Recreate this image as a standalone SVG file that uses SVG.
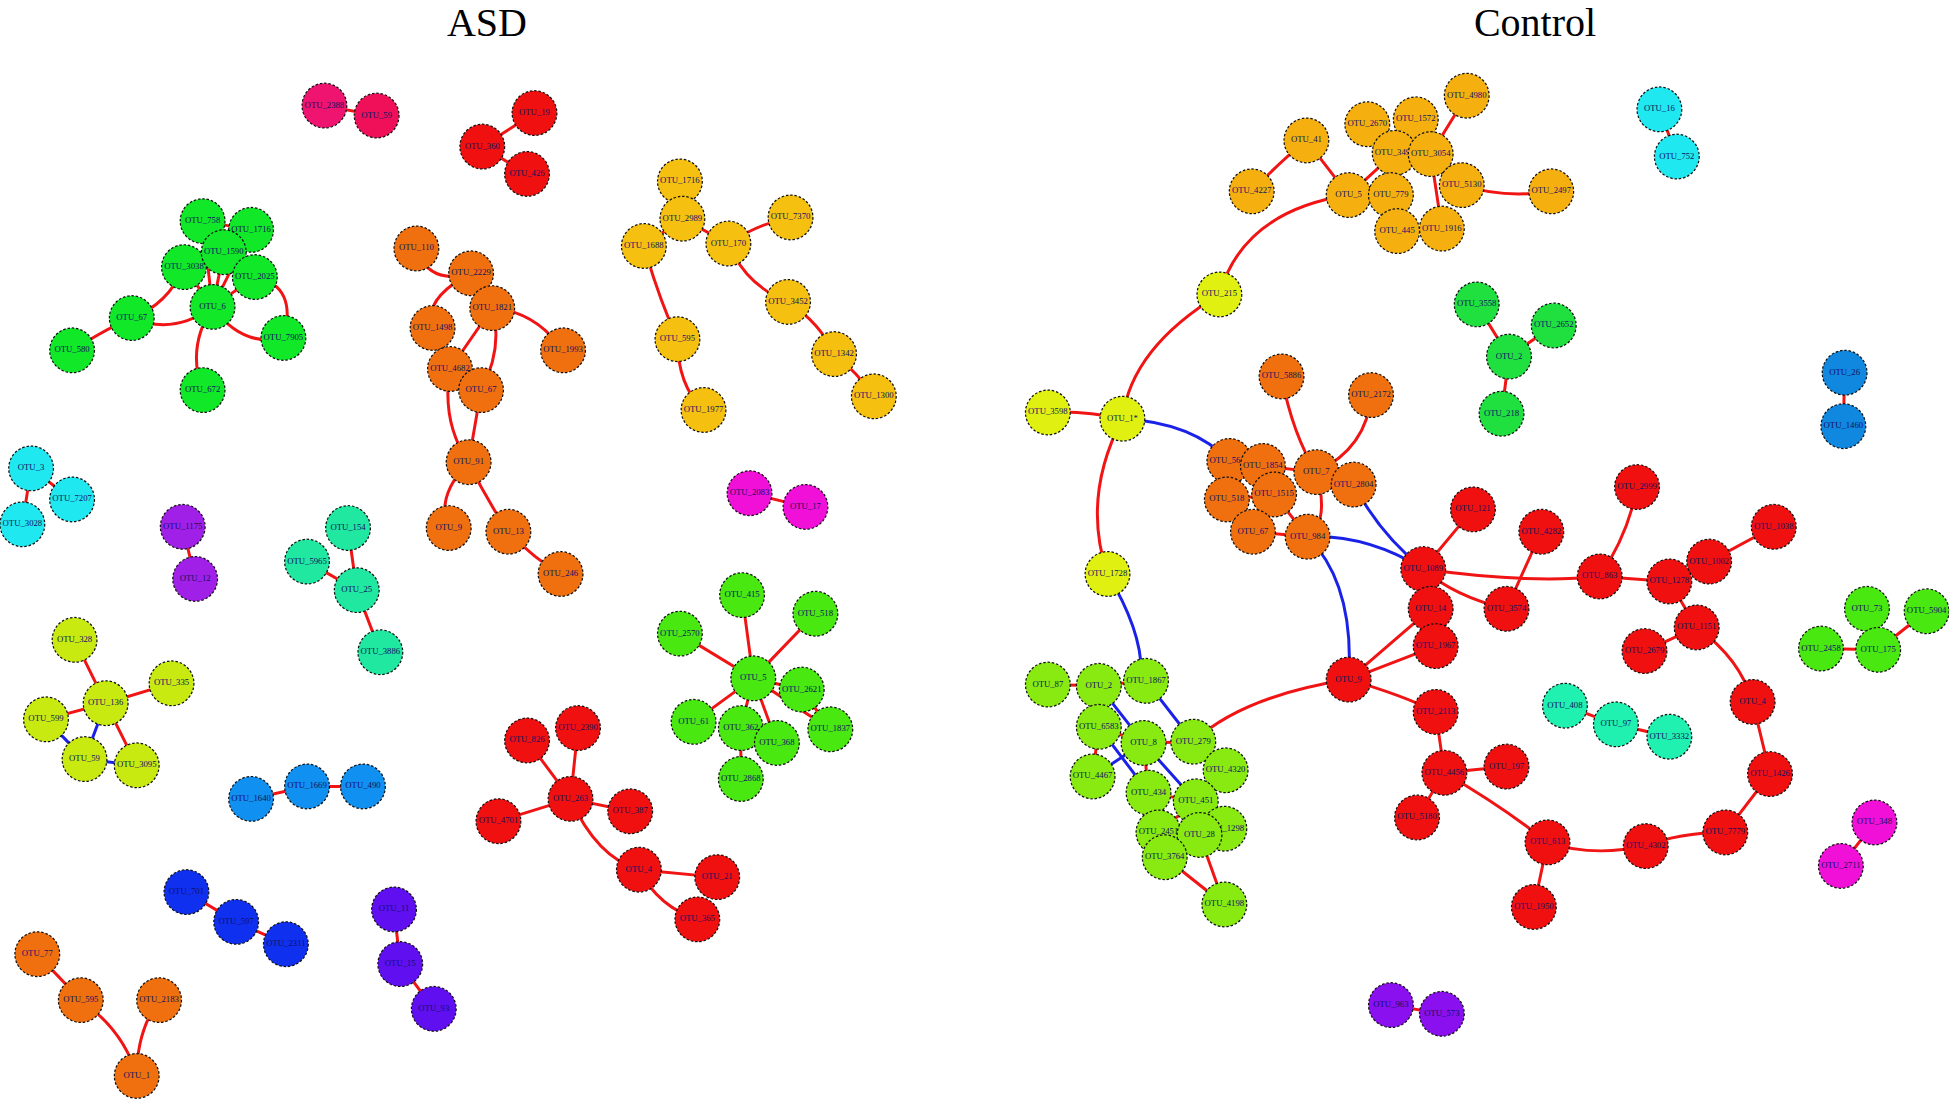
<svg xmlns="http://www.w3.org/2000/svg" width="1949" height="1102" viewBox="0 0 1949 1102">
<style>
circle{stroke:#111;stroke-width:1;stroke-dasharray:2 1.5}
text.l{font-family:"Liberation Serif",serif;font-size:7px;fill:#101060;text-anchor:middle;dominant-baseline:middle}
text.t{font-family:"Liberation Serif",serif;font-size:40px;fill:#000;text-anchor:middle}
.e path{fill:none;stroke-width:2.4}
.r{stroke:#f01414}.b{stroke:#1a22e8}
.mg{fill:#ee1470}.rd{fill:#f01010}.gr{fill:#10e828}.or{fill:#f07010}.ye{fill:#f5c010}.cy{fill:#20e8f0}.pu{fill:#a020e8}.tl{fill:#20e8a0}.pk{fill:#f010d8}.yg{fill:#c8ea10}.g2{fill:#48e810}.bl{fill:#1090f0}.db{fill:#1030f0}.vi{fill:#6010f0}.oy{fill:#f5b010}.y2{fill:#e0f010}.lm{fill:#88ea10}.ct{fill:#20f0b0}.gc{fill:#20e040}.bc{fill:#1088e0}.pc{fill:#8a10f0}
</style>
<rect width="1949" height="1102" fill="#fff"/>
<text class="t" x="487" y="36">ASD</text>
<text class="t" x="1535" y="36">Control</text>
<g transform="scale(1.243,1.2424)">
<g id="connectors" class="e">
<path class="r" d="M261 85L303 93M388 118L430 91M388 118L424 140"/>
<path class="r" d="M58 282Q90 262 106 256M106 256Q140 270 171 247M106 256Q135 245 148 215M171 247L163 178M171 247L202 185M171 247L180 203M171 247L148 215M171 247L205 223M171 247Q195 280 228 272M205 223Q240 230 228 272M171 247Q150 280 163 314M163 178L202 185M180 203L148 215"/>
<path class="r" d="M335 200Q345 230 379 220M379 220Q340 240 348 264M379 220L396 248M396 248Q430 250 453 282M396 248L362 297M348 264L362 297M396 248Q405 280 387 314M362 297L387 314M362 297Q355 340 377 372M387 314L377 372M377 372Q350 400 361 425M377 372Q390 400 409 428M409 428Q430 450 451 462"/>
<path class="r" d="M547 146L549 176M549 176L518 198M549 176L586 196M586 196Q610 180 636 175M586 196Q600 230 634 243M634 243Q660 260 671 285M671 285Q690 300 703 319M518 198Q530 240 545 273M545 273Q545 310 566 330"/>
<path class="r" d="M25 377L58 402M25 377L18 422M147 424L157 466M280 425L287 475M247 452L287 475M287 475L306 525M603 397L648 408"/>
<path class="r" d="M60 515L85 566M85 566L138 550M85 566L37 579M85 566L110 616"/><path class="b" d="M85 566L68 611M68 611L110 616M37 579L68 611"/>
<path class="r" d="M606 546L597 479M606 546L547 510M606 546L656 494M606 546L645 555M606 546L558 581M606 546L596 586M606 546L668 587M606 546L625 598M596 586L596 627M645 555L668 587M596 586L625 598"/>
<path class="r" d="M202 643L247 633L292 633M150 718L190 742L230 760M317 732L322 776L349 812"/>
<path class="r" d="M424 596L459 643M465 586L459 643M459 643L507 653M459 643L401 661M459 643Q480 690 514 700M514 700L577 706M514 700Q530 730 561 740"/>
<path class="r" d="M30 768L65 805M65 805Q100 830 110 866M128 805Q110 830 110 866"/>
<path class="r" d="M1100 100L1122 123M1139 96L1122 123M1180 77L1151 124M1051 113L1085 157M1122 123L1085 157M1122 123L1119 157M1151 124L1176 149M1176 149Q1210 160 1248 154M1122 123L1124 186M1151 124L1160 184M1119 157L1124 186M1007 154Q1030 130 1051 113M1085 157Q1000 170 981 237M981 237Q910 280 903 337M903 337Q870 330 843 332M903 337Q870 400 891 462"/>
<path class="b" d="M903 337Q960 340 989 371M891 462Q920 510 918 545"/>
<path class="r" d="M1335 88L1349 126M1188 245L1214 287M1250 262L1214 287M1214 287L1208 333M1484 300L1483 343"/>
<path class="r" d="M1031 303Q1040 350 1059 380M1103 318Q1100 360 1059 380M989 371L1016 375M1016 375L1059 380M987 402L1025 398M1025 398L1052 432M1008 428L1052 432M1059 380L1089 390M1016 375L1025 398M1059 380Q1070 420 1052 432"/>
<path class="b" d="M1052 432Q1100 430 1145 458M1089 390Q1110 430 1145 458M1052 432Q1090 470 1085 547"/>
<path class="r" d="M1185 410L1145 458M1145 458L1151 490M1145 458Q1170 480 1212 490M1145 458Q1230 470 1287 464M1317 392Q1310 430 1287 464M1240 428L1212 490M1287 464L1343 468M1343 468L1375 452M1375 452L1427 424M1343 468L1365 505M1365 505L1323 524M1365 505Q1400 530 1410 565M1410 565L1424 623M1424 623L1388 670M1388 670Q1350 670 1324 681M1324 681Q1280 690 1245 678M1245 678Q1210 650 1162 622M1245 678L1234 730M1085 547L1151 490M1085 547L1155 520M1085 547Q1130 560 1155 573M1155 573L1162 622M1162 622L1140 658M1162 622L1212 617M1151 490L1155 520M1085 547Q1000 560 960 597"/>
<path class="r" d="M1259 568L1300 583L1343 593M1502 490L1511 523M1550 492L1511 523M1465 522L1511 523M1508 662L1481 697M1119 809L1160 816"/>
<path class="r" d="M843 551L884 552L922 548M884 552L884 585M884 585L920 598M920 598L960 597M884 585L879 625M920 598L924 638M924 638L962 645M960 597L986 620M962 645L985 667M962 645L932 670M962 645L965 672M932 670L937 690M965 672L985 728M937 690L985 728"/>
<path class="b" d="M884 552L920 598M922 548L960 597M884 585L924 638M920 598L962 645M879 625L920 598"/>
</g>
<g id="n001"><circle class="mg" cx="261" cy="85" r="18"/><text class="l" x="261" y="85">OTU_2388</text></g>
<g id="n002"><circle class="mg" cx="303" cy="93" r="18" style="fill:#f0105a"/><text class="l" x="303" y="93">OTU_59</text></g>
<g id="n003"><circle class="rd" cx="430" cy="91" r="18"/><text class="l" x="430" y="91">OTU_19</text></g>
<g id="n004"><circle class="rd" cx="388" cy="118" r="18"/><text class="l" x="388" y="118">OTU_360</text></g>
<g id="n005"><circle class="rd" cx="424" cy="140" r="18"/><text class="l" x="424" y="140">OTU_426</text></g>
<g id="n006"><circle class="gr" cx="163" cy="178" r="18"/><text class="l" x="163" y="178">OTU_758</text></g>
<g id="n007"><circle class="gr" cx="202" cy="185" r="18"/><text class="l" x="202" y="185">OTU_1716</text></g>
<g id="n008"><circle class="gr" cx="148" cy="215" r="18"/><text class="l" x="148" y="215">OTU_3038</text></g>
<g id="n009"><circle class="gr" cx="180" cy="203" r="18"/><text class="l" x="180" y="203">OTU_1590</text></g>
<g id="n010"><circle class="gr" cx="205" cy="223" r="18"/><text class="l" x="205" y="223">OTU_2025</text></g>
<g id="n011"><circle class="gr" cx="171" cy="247" r="18"/><text class="l" x="171" y="247">OTU_6</text></g>
<g id="n012"><circle class="gr" cx="106" cy="256" r="18"/><text class="l" x="106" y="256">OTU_67</text></g>
<g id="n013"><circle class="gr" cx="58" cy="282" r="18"/><text class="l" x="58" y="282">OTU_580</text></g>
<g id="n014"><circle class="gr" cx="228" cy="272" r="18"/><text class="l" x="228" y="272">OTU_7905</text></g>
<g id="n015"><circle class="gr" cx="163" cy="314" r="18"/><text class="l" x="163" y="314">OTU_672</text></g>
<g id="n016"><circle class="or" cx="335" cy="200" r="18"/><text class="l" x="335" y="200">OTU_110</text></g>
<g id="n017"><circle class="or" cx="379" cy="220" r="18"/><text class="l" x="379" y="220">OTU_2229</text></g>
<g id="n018"><circle class="or" cx="348" cy="264" r="18"/><text class="l" x="348" y="264">OTU_1498</text></g>
<g id="n019"><circle class="or" cx="396" cy="248" r="18"/><text class="l" x="396" y="248">OTU_1821</text></g>
<g id="n020"><circle class="or" cx="453" cy="282" r="18"/><text class="l" x="453" y="282">OTU_1993</text></g>
<g id="n021"><circle class="or" cx="362" cy="297" r="18"/><text class="l" x="362" y="297">OTU_4682</text></g>
<g id="n022"><circle class="or" cx="387" cy="314" r="18"/><text class="l" x="387" y="314">OTU_67</text></g>
<g id="n023"><circle class="or" cx="377" cy="372" r="18"/><text class="l" x="377" y="372">OTU_91</text></g>
<g id="n024"><circle class="or" cx="361" cy="425" r="18"/><text class="l" x="361" y="425">OTU_9</text></g>
<g id="n025"><circle class="or" cx="409" cy="428" r="18"/><text class="l" x="409" y="428">OTU_13</text></g>
<g id="n026"><circle class="or" cx="451" cy="462" r="18"/><text class="l" x="451" y="462">OTU_246</text></g>
<g id="n027"><circle class="ye" cx="547" cy="146" r="18"/><text class="l" x="547" y="146">OTU_1716</text></g>
<g id="n028"><circle class="ye" cx="549" cy="176" r="18"/><text class="l" x="549" y="176">OTU_2989</text></g>
<g id="n029"><circle class="ye" cx="518" cy="198" r="18"/><text class="l" x="518" y="198">OTU_1688</text></g>
<g id="n030"><circle class="ye" cx="586" cy="196" r="18"/><text class="l" x="586" y="196">OTU_170</text></g>
<g id="n031"><circle class="ye" cx="636" cy="175" r="18"/><text class="l" x="636" y="175">OTU_7370</text></g>
<g id="n032"><circle class="ye" cx="634" cy="243" r="18"/><text class="l" x="634" y="243">OTU_3452</text></g>
<g id="n033"><circle class="ye" cx="545" cy="273" r="18"/><text class="l" x="545" y="273">OTU_595</text></g>
<g id="n034"><circle class="ye" cx="671" cy="285" r="18"/><text class="l" x="671" y="285">OTU_1342</text></g>
<g id="n035"><circle class="ye" cx="703" cy="319" r="18"/><text class="l" x="703" y="319">OTU_1300</text></g>
<g id="n036"><circle class="ye" cx="566" cy="330" r="18"/><text class="l" x="566" y="330">OTU_1977</text></g>
<g id="n037"><circle class="cy" cx="25" cy="377" r="18"/><text class="l" x="25" y="377">OTU_3</text></g>
<g id="n038"><circle class="cy" cx="58" cy="402" r="18"/><text class="l" x="58" y="402">OTU_7207</text></g>
<g id="n039"><circle class="cy" cx="18" cy="422" r="18"/><text class="l" x="18" y="422">OTU_3028</text></g>
<g id="n040"><circle class="pu" cx="147" cy="424" r="18"/><text class="l" x="147" y="424">OTU_1175</text></g>
<g id="n041"><circle class="pu" cx="157" cy="466" r="18"/><text class="l" x="157" y="466">OTU_12</text></g>
<g id="n042"><circle class="tl" cx="280" cy="425" r="18"/><text class="l" x="280" y="425">OTU_154</text></g>
<g id="n043"><circle class="tl" cx="247" cy="452" r="18"/><text class="l" x="247" y="452">OTU_5965</text></g>
<g id="n044"><circle class="tl" cx="287" cy="475" r="18"/><text class="l" x="287" y="475">OTU_25</text></g>
<g id="n045"><circle class="tl" cx="306" cy="525" r="18"/><text class="l" x="306" y="525">OTU_3886</text></g>
<g id="n046"><circle class="pk" cx="603" cy="397" r="18"/><text class="l" x="603" y="397">OTU_2083</text></g>
<g id="n047"><circle class="pk" cx="648" cy="408" r="18"/><text class="l" x="648" y="408">OTU_17</text></g>
<g id="n048"><circle class="yg" cx="60" cy="515" r="18"/><text class="l" x="60" y="515">OTU_328</text></g>
<g id="n049"><circle class="yg" cx="85" cy="566" r="18"/><text class="l" x="85" y="566">OTU_136</text></g>
<g id="n050"><circle class="yg" cx="138" cy="550" r="18"/><text class="l" x="138" y="550">OTU_335</text></g>
<g id="n051"><circle class="yg" cx="37" cy="579" r="18"/><text class="l" x="37" y="579">OTU_599</text></g>
<g id="n052"><circle class="yg" cx="68" cy="611" r="18"/><text class="l" x="68" y="611">OTU_59</text></g>
<g id="n053"><circle class="yg" cx="110" cy="616" r="18"/><text class="l" x="110" y="616">OTU_3095</text></g>
<g id="n054"><circle class="g2" cx="597" cy="479" r="18"/><text class="l" x="597" y="479">OTU_415</text></g>
<g id="n055"><circle class="g2" cx="547" cy="510" r="18"/><text class="l" x="547" y="510">OTU_2570</text></g>
<g id="n056"><circle class="g2" cx="656" cy="494" r="18"/><text class="l" x="656" y="494">OTU_518</text></g>
<g id="n057"><circle class="g2" cx="606" cy="546" r="18"/><text class="l" x="606" y="546">OTU_5</text></g>
<g id="n058"><circle class="g2" cx="645" cy="555" r="18"/><text class="l" x="645" y="555">OTU_2621</text></g>
<g id="n059"><circle class="g2" cx="558" cy="581" r="18"/><text class="l" x="558" y="581">OTU_61</text></g>
<g id="n060"><circle class="g2" cx="596" cy="586" r="18"/><text class="l" x="596" y="586">OTU_362</text></g>
<g id="n061"><circle class="g2" cx="668" cy="587" r="18"/><text class="l" x="668" y="587">OTU_1837</text></g>
<g id="n062"><circle class="g2" cx="625" cy="598" r="18"/><text class="l" x="625" y="598">OTU_368</text></g>
<g id="n063"><circle class="g2" cx="596" cy="627" r="18"/><text class="l" x="596" y="627">OTU_2868</text></g>
<g id="n064"><circle class="bl" cx="202" cy="643" r="18"/><text class="l" x="202" y="643">OTU_1640</text></g>
<g id="n065"><circle class="bl" cx="247" cy="633" r="18"/><text class="l" x="247" y="633">OTU_1669</text></g>
<g id="n066"><circle class="bl" cx="292" cy="633" r="18"/><text class="l" x="292" y="633">OTU_490</text></g>
<g id="n067"><circle class="rd" cx="424" cy="596" r="18"/><text class="l" x="424" y="596">OTU_826</text></g>
<g id="n068"><circle class="rd" cx="465" cy="586" r="18"/><text class="l" x="465" y="586">OTU_2390</text></g>
<g id="n069"><circle class="rd" cx="459" cy="643" r="18"/><text class="l" x="459" y="643">OTU_263</text></g>
<g id="n070"><circle class="rd" cx="507" cy="653" r="18"/><text class="l" x="507" y="653">OTU_387</text></g>
<g id="n071"><circle class="rd" cx="401" cy="661" r="18"/><text class="l" x="401" y="661">OTU_4701</text></g>
<g id="n072"><circle class="rd" cx="514" cy="700" r="18"/><text class="l" x="514" y="700">OTU_4</text></g>
<g id="n073"><circle class="rd" cx="577" cy="706" r="18"/><text class="l" x="577" y="706">OTU_21</text></g>
<g id="n074"><circle class="rd" cx="561" cy="740" r="18"/><text class="l" x="561" y="740">OTU_365</text></g>
<g id="n075"><circle class="db" cx="150" cy="718" r="18"/><text class="l" x="150" y="718">OTU_701</text></g>
<g id="n076"><circle class="db" cx="190" cy="742" r="18"/><text class="l" x="190" y="742">OTU_597</text></g>
<g id="n077"><circle class="db" cx="230" cy="760" r="18"/><text class="l" x="230" y="760">OTU_2311</text></g>
<g id="n078"><circle class="vi" cx="317" cy="732" r="18"/><text class="l" x="317" y="732">OTU_11</text></g>
<g id="n079"><circle class="vi" cx="322" cy="776" r="18"/><text class="l" x="322" y="776">OTU_15</text></g>
<g id="n080"><circle class="vi" cx="349" cy="812" r="18"/><text class="l" x="349" y="812">OTU_93</text></g>
<g id="n081"><circle class="or" cx="30" cy="768" r="18"/><text class="l" x="30" y="768">OTU_77</text></g>
<g id="n082"><circle class="or" cx="65" cy="805" r="18"/><text class="l" x="65" y="805">OTU_595</text></g>
<g id="n083"><circle class="or" cx="128" cy="805" r="18"/><text class="l" x="128" y="805">OTU_2183</text></g>
<g id="n084"><circle class="or" cx="110" cy="866" r="18"/><text class="l" x="110" y="866">OTU_1</text></g>
<g id="n101"><circle class="oy" cx="1180" cy="77" r="18"/><text class="l" x="1180" y="77">OTU_4980</text></g>
<g id="n102"><circle class="oy" cx="1100" cy="100" r="18"/><text class="l" x="1100" y="100">OTU_2670</text></g>
<g id="n103"><circle class="oy" cx="1139" cy="96" r="18"/><text class="l" x="1139" y="96">OTU_1572</text></g>
<g id="n104"><circle class="oy" cx="1051" cy="113" r="18"/><text class="l" x="1051" y="113">OTU_41</text></g>
<g id="n105"><circle class="oy" cx="1122" cy="123" r="18"/><text class="l" x="1122" y="123">OTU_3490</text></g>
<g id="n106"><circle class="oy" cx="1151" cy="124" r="18"/><text class="l" x="1151" y="124">OTU_3054</text></g>
<g id="n107"><circle class="oy" cx="1007" cy="154" r="18"/><text class="l" x="1007" y="154">OTU_4227</text></g>
<g id="n108"><circle class="oy" cx="1085" cy="157" r="18"/><text class="l" x="1085" y="157">OTU_5</text></g>
<g id="n109"><circle class="oy" cx="1119" cy="157" r="18"/><text class="l" x="1119" y="157">OTU_779</text></g>
<g id="n110"><circle class="oy" cx="1176" cy="149" r="18"/><text class="l" x="1176" y="149">OTU_5130</text></g>
<g id="n111"><circle class="oy" cx="1248" cy="154" r="18"/><text class="l" x="1248" y="154">OTU_2497</text></g>
<g id="n112"><circle class="oy" cx="1124" cy="186" r="18"/><text class="l" x="1124" y="186">OTU_445</text></g>
<g id="n113"><circle class="oy" cx="1160" cy="184" r="18"/><text class="l" x="1160" y="184">OTU_1916</text></g>
<g id="n114"><circle class="y2" cx="981" cy="237" r="18"/><text class="l" x="981" y="237">OTU_215</text></g>
<g id="n115"><circle class="y2" cx="903" cy="337" r="18"/><text class="l" x="903" y="337">OTU_1*</text></g>
<g id="n116"><circle class="y2" cx="843" cy="332" r="18"/><text class="l" x="843" y="332">OTU_3598</text></g>
<g id="n117"><circle class="y2" cx="891" cy="462" r="18"/><text class="l" x="891" y="462">OTU_1728</text></g>
<g id="n118"><circle class="cy" cx="1335" cy="88" r="18"/><text class="l" x="1335" y="88">OTU_16</text></g>
<g id="n119"><circle class="cy" cx="1349" cy="126" r="18"/><text class="l" x="1349" y="126">OTU_752</text></g>
<g id="n120"><circle class="gc" cx="1188" cy="245" r="18"/><text class="l" x="1188" y="245">OTU_3558</text></g>
<g id="n121"><circle class="gc" cx="1250" cy="262" r="18"/><text class="l" x="1250" y="262">OTU_2652</text></g>
<g id="n122"><circle class="gc" cx="1214" cy="287" r="18"/><text class="l" x="1214" y="287">OTU_2</text></g>
<g id="n123"><circle class="gc" cx="1208" cy="333" r="18"/><text class="l" x="1208" y="333">OTU_218</text></g>
<g id="n124"><circle class="bc" cx="1484" cy="300" r="18"/><text class="l" x="1484" y="300">OTU_26</text></g>
<g id="n125"><circle class="bc" cx="1483" cy="343" r="18"/><text class="l" x="1483" y="343">OTU_1460</text></g>
<g id="n126"><circle class="or" cx="1031" cy="303" r="18"/><text class="l" x="1031" y="303">OTU_5886</text></g>
<g id="n127"><circle class="or" cx="1103" cy="318" r="18"/><text class="l" x="1103" y="318">OTU_2172</text></g>
<g id="n128"><circle class="or" cx="989" cy="371" r="18"/><text class="l" x="989" y="371">OTU_5621</text></g>
<g id="n129"><circle class="or" cx="1016" cy="375" r="18"/><text class="l" x="1016" y="375">OTU_1854</text></g>
<g id="n130"><circle class="or" cx="1059" cy="380" r="18"/><text class="l" x="1059" y="380">OTU_7</text></g>
<g id="n131"><circle class="or" cx="1089" cy="390" r="18"/><text class="l" x="1089" y="390">OTU_2804</text></g>
<g id="n132"><circle class="or" cx="987" cy="402" r="18"/><text class="l" x="987" y="402">OTU_518</text></g>
<g id="n133"><circle class="or" cx="1025" cy="398" r="18"/><text class="l" x="1025" y="398">OTU_1515</text></g>
<g id="n134"><circle class="or" cx="1008" cy="428" r="18"/><text class="l" x="1008" y="428">OTU_67</text></g>
<g id="n135"><circle class="or" cx="1052" cy="432" r="18"/><text class="l" x="1052" y="432">OTU_984</text></g>
<g id="n140"><circle class="rd" cx="1185" cy="410" r="18"/><text class="l" x="1185" y="410">OTU_121</text></g>
<g id="n141"><circle class="rd" cx="1240" cy="428" r="18"/><text class="l" x="1240" y="428">OTU_4282</text></g>
<g id="n142"><circle class="rd" cx="1317" cy="392" r="18"/><text class="l" x="1317" y="392">OTU_2999</text></g>
<g id="n143"><circle class="rd" cx="1427" cy="424" r="18"/><text class="l" x="1427" y="424">OTU_1038</text></g>
<g id="n144"><circle class="rd" cx="1375" cy="452" r="18"/><text class="l" x="1375" y="452">OTU_1002</text></g>
<g id="n145"><circle class="rd" cx="1145" cy="458" r="18"/><text class="l" x="1145" y="458">OTU_1089</text></g>
<g id="n146"><circle class="rd" cx="1287" cy="464" r="18"/><text class="l" x="1287" y="464">OTU_863</text></g>
<g id="n147"><circle class="rd" cx="1343" cy="468" r="18"/><text class="l" x="1343" y="468">OTU_1278</text></g>
<g id="n148"><circle class="rd" cx="1151" cy="490" r="18"/><text class="l" x="1151" y="490">OTU_14</text></g>
<g id="n149"><circle class="rd" cx="1212" cy="490" r="18"/><text class="l" x="1212" y="490">OTU_3574</text></g>
<g id="n150"><circle class="rd" cx="1365" cy="505" r="18"/><text class="l" x="1365" y="505">OTU_1151</text></g>
<g id="n151"><circle class="rd" cx="1155" cy="520" r="18"/><text class="l" x="1155" y="520">OTU_1967</text></g>
<g id="n152"><circle class="rd" cx="1323" cy="524" r="18"/><text class="l" x="1323" y="524">OTU_2679</text></g>
<g id="n153"><circle class="rd" cx="1085" cy="547" r="18"/><text class="l" x="1085" y="547">OTU_9</text></g>
<g id="n154"><circle class="rd" cx="1410" cy="565" r="18"/><text class="l" x="1410" y="565">OTU_4</text></g>
<g id="n155"><circle class="rd" cx="1155" cy="573" r="18"/><text class="l" x="1155" y="573">OTU_2113</text></g>
<g id="n156"><circle class="rd" cx="1162" cy="622" r="18"/><text class="l" x="1162" y="622">OTU_4456</text></g>
<g id="n157"><circle class="rd" cx="1212" cy="617" r="18"/><text class="l" x="1212" y="617">OTU_197</text></g>
<g id="n158"><circle class="rd" cx="1424" cy="623" r="18"/><text class="l" x="1424" y="623">OTU_1426</text></g>
<g id="n159"><circle class="rd" cx="1140" cy="658" r="18"/><text class="l" x="1140" y="658">OTU_5180</text></g>
<g id="n160"><circle class="rd" cx="1245" cy="678" r="18"/><text class="l" x="1245" y="678">OTU_613</text></g>
<g id="n161"><circle class="rd" cx="1324" cy="681" r="18"/><text class="l" x="1324" y="681">OTU_4302</text></g>
<g id="n162"><circle class="rd" cx="1388" cy="670" r="18"/><text class="l" x="1388" y="670">OTU_7779</text></g>
<g id="n163"><circle class="rd" cx="1234" cy="730" r="18"/><text class="l" x="1234" y="730">OTU_1950</text></g>
<g id="n164"><circle class="ct" cx="1259" cy="568" r="18"/><text class="l" x="1259" y="568">OTU_408</text></g>
<g id="n165"><circle class="ct" cx="1300" cy="583" r="18"/><text class="l" x="1300" y="583">OTU_97</text></g>
<g id="n166"><circle class="ct" cx="1343" cy="593" r="18"/><text class="l" x="1343" y="593">OTU_3332</text></g>
<g id="n167"><circle class="g2" cx="1502" cy="490" r="18"/><text class="l" x="1502" y="490">OTU_73</text></g>
<g id="n168"><circle class="g2" cx="1550" cy="492" r="18"/><text class="l" x="1550" y="492">OTU_5904</text></g>
<g id="n169"><circle class="g2" cx="1465" cy="522" r="18"/><text class="l" x="1465" y="522">OTU_2458</text></g>
<g id="n170"><circle class="g2" cx="1511" cy="523" r="18"/><text class="l" x="1511" y="523">OTU_175</text></g>
<g id="n171"><circle class="pk" cx="1508" cy="662" r="18"/><text class="l" x="1508" y="662">OTU_348</text></g>
<g id="n172"><circle class="pk" cx="1481" cy="697" r="18"/><text class="l" x="1481" y="697">OTU_2711</text></g>
<g id="n173"><circle class="pc" cx="1119" cy="809" r="18"/><text class="l" x="1119" y="809">OTU_963</text></g>
<g id="n174"><circle class="pc" cx="1160" cy="816" r="18"/><text class="l" x="1160" y="816">OTU_573</text></g>
<g id="n180"><circle class="lm" cx="843" cy="551" r="18"/><text class="l" x="843" y="551">OTU_87</text></g>
<g id="n181"><circle class="lm" cx="884" cy="552" r="18"/><text class="l" x="884" y="552">OTU_2</text></g>
<g id="n182"><circle class="lm" cx="922" cy="548" r="18"/><text class="l" x="922" y="548">OTU_1867</text></g>
<g id="n183"><circle class="lm" cx="884" cy="585" r="18"/><text class="l" x="884" y="585">OTU_6583</text></g>
<g id="n184"><circle class="lm" cx="920" cy="598" r="18"/><text class="l" x="920" y="598">OTU_8</text></g>
<g id="n185"><circle class="lm" cx="960" cy="597" r="18"/><text class="l" x="960" y="597">OTU_279</text></g>
<g id="n186"><circle class="lm" cx="879" cy="625" r="18"/><text class="l" x="879" y="625">OTU_4467</text></g>
<g id="n187"><circle class="lm" cx="986" cy="620" r="18"/><text class="l" x="986" y="620">OTU_4320</text></g>
<g id="n188"><circle class="lm" cx="924" cy="638" r="18"/><text class="l" x="924" y="638">OTU_434</text></g>
<g id="n189"><circle class="lm" cx="962" cy="645" r="18"/><text class="l" x="962" y="645">OTU_451</text></g>
<g id="n190"><circle class="lm" cx="932" cy="670" r="18"/><text class="l" x="932" y="670">OTU_2451</text></g>
<g id="n191"><circle class="lm" cx="985" cy="667" r="18"/><text class="l" x="985" y="667">OTU_1298</text></g>
<g id="n192"><circle class="lm" cx="965" cy="672" r="18"/><text class="l" x="965" y="672">OTU_28</text></g>
<g id="n193"><circle class="lm" cx="937" cy="690" r="18"/><text class="l" x="937" y="690">OTU_3764</text></g>
<g id="n194"><circle class="lm" cx="985" cy="728" r="18"/><text class="l" x="985" y="728">OTU_4198</text></g>
</g>
</svg>
